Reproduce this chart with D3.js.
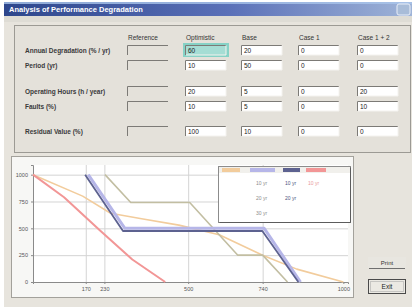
<!DOCTYPE html>
<html>
<head>
<meta charset="utf-8">
<script src="https://cdnjs.cloudflare.com/ajax/libs/d3/7.8.5/d3.min.js"></script>
<style>
    body { margin: 0; background: #ffffff; }
    svg { display: block; font-family: "Liberation Sans", "DejaVu Sans", sans-serif; }
</style>
</head>
<body>
<svg id="dialog" width="412" height="307"></svg>
<script>
//
// dialog with the input form and the degradation chart
//

// form contents
const column_labels = ['Reference', 'Optimistic', 'Base', 'Case 1', 'Case 1 + 2'];
const row_labels = ['Annual Degradation (% / yr)', 'Period (yr)', 'Operating Hours (h / year)', 'Faults (%)', 'Residual Value (%)'];
const form_values = [
    ['', '60', '20', '0', '0'],
    ['', '10', '50', '0', '0'],
    ['', '20', '5', '0', '20'],
    ['', '10', '5', '0', '10'],
    ['', '100', '10', '0', '0']
];

// chart contents
const x_ticks = [170, 230, 500, 740, 1000];
const y_ticks = [0, 250, 500, 750, 1000];
const series_names = ['Base', 'Optimistic', 'Case 1', 'Case 2', 'Reference'];
const base_curve = [[0, 1000], [160, 800], [250, 640], [350, 590], [470, 530], [600, 440], [740, 250], [850, 120], [1000, 0]];
const optimistic_curve = [[178, 1000], [296, 500], [745, 500], [862, 0]];
const case1_curve = [[168, 1000], [290, 475], [739, 475], [855, 0]];
const case2_curve = [[0, 1000], [100, 790], [216, 480], [320, 210], [426, 0]];
const reference_curve = [[232, 1000], [315, 740], [505, 740], [660, 250], [740, 250], [820, 0]];

// legend table (header per series, small entries below)
const legend_headers = ['Base', 'Optimistic', 'Case 1', 'Case 2'];
const legend_entries = [[], ['10 yr', '20 yr', '30 yr'], ['10 yr', '20 yr'], ['10 yr']];


const svg = d3.select('#dialog');
const defs = svg.append('defs');

const title_grad = defs.append('linearGradient').attr('id', 'title_grad');
title_grad.append('stop').attr('offset', '0%').attr('stop-color', '#2d468c');
title_grad.append('stop').attr('offset', '55%').attr('stop-color', '#5a70b8');
title_grad.append('stop').attr('offset', '100%').attr('stop-color', '#9fb4d8');

// window body
svg.append('rect').attr('x', 4).attr('y', 2).attr('width', 408).attr('height', 305)
    .attr('fill', '#e7e4dd');

// title bar
svg.append('rect').attr('x', 4).attr('y', 2).attr('width', 408).attr('height', 14)
    .attr('fill', 'url(#title_grad)');
svg.append('rect').attr('x', 4).attr('y', 2).attr('width', 408).attr('height', 2)
    .attr('fill', '#a9c4ea').attr('opacity', 0.8);
svg.append('text').attr('x', 9).attr('y', 12)
    .attr('fill', '#ffffff').attr('font-size', 7.5).attr('font-weight', 'bold')
    .text('Analysis of Performance Degradation');
svg.append('rect').attr('x', 397).attr('y', 4).attr('width', 13).attr('height', 11).attr('rx', 2)
    .attr('fill', '#a8bcd8').attr('stroke', '#e8eef8');
svg.append('rect').attr('x', 4).attr('y', 16).attr('width', 408).attr('height', 6)
    .attr('fill', '#dedcd5');

// form group
svg.append('rect').attr('x', 14.5).attr('y', 25.5).attr('width', 396).attr('height', 127)
    .attr('fill', '#e4e1da').attr('stroke', '#9c9a94');

const col_x = [127, 185, 241, 298, 357];
const row_y = [50, 65, 91, 106, 131];

svg.selectAll('.col_label')
    .data(column_labels)
    .enter()
    .append('text')
    .attr('class', 'col_label')
    .attr('x', (d, i) => col_x[i] + 1)
    .attr('y', 40)
    .attr('font-size', 6.5)
    .attr('fill', '#333333')
    .text((d) => d);

svg.selectAll('.row_label')
    .data(row_labels)
    .enter()
    .append('text')
    .attr('class', 'row_label')
    .attr('x', 25)
    .attr('y', (d, i) => row_y[i] + 2.5)
    .attr('font-size', 6.5)
    .attr('font-weight', 'bold')
    .attr('fill', '#3a3a3a')
    .text((d) => d);

// highlighted cell
svg.append('rect').attr('x', 183).attr('y', 43).attr('width', 46).attr('height', 14)
    .attr('fill', '#86d2c6');

const cells = [];
form_values.forEach((row, r) => row.forEach((v, c) => cells.push({r: r, c: c, v: v})));

const cell_groups = svg.selectAll('.cell')
    .data(cells)
    .enter()
    .append('g')
    .attr('class', 'cell')
    .attr('transform', (d) => `translate(${col_x[d.c]}, ${row_y[d.r] - 5})`);

cell_groups.append('rect')
    .attr('width', 41).attr('height', 10)
    .attr('fill', (d) => d.c === 0 ? '#e4e1da' : (d.r === 0 && d.c === 1 ? '#a5ddd4' : '#ffffff'));
cell_groups.append('path')
    .attr('d', 'M0.5,10 V0.5 H41')
    .attr('fill', 'none')
    .attr('stroke', '#7c7a76');
cell_groups.append('path')
    .attr('d', 'M1,10 H41 V0.5')
    .attr('fill', 'none')
    .attr('stroke', '#f4f3ef')
    .attr('opacity', (d) => d.c === 0 ? 0 : 1);
cell_groups.append('text')
    .attr('x', 3).attr('y', 7.5)
    .attr('font-size', 6.5)
    .attr('fill', '#222222')
    .text((d) => d.v);

// chart panel
svg.append('rect').attr('x', 11.5).attr('y', 156.5).attr('width', 342).attr('height', 141)
    .attr('fill', '#f7f7f5').attr('stroke', '#a3a19b');

const x = d3.scaleLinear().domain([0, 1015]).range([33, 348]);
const y = d3.scaleLinear().domain([0, 1090]).range([282, 165]);

svg.append('rect').attr('x', x(0)).attr('y', y(1090)).attr('width', x(1015) - x(0)).attr('height', y(0) - y(1090))
    .attr('fill', '#ffffff');

// grid lines
svg.append('g')
    .attr('transform', `translate(0, ${y(0)})`)
    .call(d3.axisBottom(x).tickValues(x_ticks.slice(0, 4)).tickSize(-(y(0) - y(1090))).tickFormat(''))
    .call((g) => g.select('.domain').remove())
    .call((g) => g.selectAll('line').attr('stroke', '#d4d4d4'));
svg.append('g')
    .attr('transform', `translate(${x(0)}, 0)`)
    .call(d3.axisLeft(y).tickValues(y_ticks.slice(1)).tickSize(-(x(1015) - x(0))).tickFormat(''))
    .call((g) => g.select('.domain').remove())
    .call((g) => g.selectAll('line').attr('stroke', '#d4d4d4'));

// axes
svg.append('g')
    .attr('transform', `translate(0, ${y(0)})`)
    .call(d3.axisBottom(x).tickValues(x_ticks).tickFormat(d3.format('d')).tickSize(2).tickPadding(3))
    .call((g) => g.select('.domain').attr('stroke', '#8a8a8a'))
    .call((g) => g.selectAll('line').attr('stroke', '#8a8a8a'))
    .call((g) => g.selectAll('text').attr('font-size', 5.5).attr('fill', '#555555').attr('font-family', 'Liberation Sans'));
svg.append('g')
    .attr('transform', `translate(${x(0)}, 0)`)
    .call(d3.axisLeft(y).tickValues(y_ticks).tickFormat(d3.format('d')).tickSize(2).tickPadding(3))
    .call((g) => g.select('.domain').attr('stroke', '#8a8a8a'))
    .call((g) => g.selectAll('line').attr('stroke', '#8a8a8a'))
    .call((g) => g.selectAll('text').attr('font-size', 5.5).attr('fill', '#555555').attr('font-family', 'Liberation Sans'));

const line = d3.line().x((d) => x(d[0])).y((d) => y(d[1]));

const curves = [
    {data: base_curve, color: '#f2cc9c', width: 1.6},
    {data: reference_curve, color: '#c2bea2', width: 1.6},
    {data: optimistic_curve, color: '#b6b6e8', width: 3},
    {data: case1_curve, color: '#5d6290', width: 1.8},
    {data: case2_curve, color: '#f29696', width: 2}
];

svg.selectAll('.curve')
    .data(curves)
    .enter()
    .append('path')
    .attr('class', 'curve')
    .attr('d', (d) => line(d.data))
    .attr('fill', 'none')
    .attr('stroke', (d) => d.color)
    .attr('stroke-width', (d) => d.width)
    .attr('stroke-linejoin', 'round');

// legend
const legend_colors = ['#f2cc9c', '#b6b6e8', '#5d6290', '#f29696'];
const legend_x = [222, 250, 283, 306];
const legend = svg.append('g').attr('transform', 'translate(218, 166)');
legend.append('rect').attr('x', 0.5).attr('y', 0.5).attr('width', 132).attr('height', 56)
    .attr('fill', '#ffffff').attr('stroke', '#8c8c8c');
legend.append('path').attr('d', 'M1.5,56.5 H132.5 V1.5').attr('fill', 'none').attr('stroke', '#5c5c5c');
legend.append('rect').attr('x', 1).attr('y', 1).attr('width', 131).attr('height', 6)
    .attr('fill', '#f1f0ec');

const legend_cols = legend.selectAll('.legend_col')
    .data(legend_headers)
    .enter()
    .append('g')
    .attr('class', 'legend_col')
    .attr('transform', (d, i) => `translate(${legend_x[i] - 218}, 0)`);

legend_cols.append('rect')
    .attr('y', 2).attr('height', 4)
    .attr('width', (d, i) => [18, 25, 17, 20][i])
    .attr('fill', (d, i) => legend_colors[i]);

legend_cols.selectAll('.entry')
    .data((d, i) => legend_entries[i].map((e) => ({text: e, col: i})))
    .enter()
    .append('text')
    .attr('class', 'entry')
    .attr('x', (d) => d.col === 1 ? 6 : 2)
    .attr('y', (d, j) => 19 + j * 15)
    .attr('font-size', 5)
    .attr('fill', (d) => d.col === 2 ? '#4e537e' : (d.col === 3 ? '#e99a9a' : '#8c8c8c'))
    .text((d) => d.text);

// buttons
const print_btn = svg.append('g').attr('transform', 'translate(368, 257)');
print_btn.append('rect').attr('width', 38).attr('height', 11).attr('fill', '#e8e6e0');
print_btn.append('text').attr('x', 19).attr('y', 7.5).attr('text-anchor', 'middle')
    .attr('font-size', 6).attr('fill', '#333333').text('Print');
print_btn.append('path').attr('d', 'M1,11.5 H37').attr('stroke', '#6f6f6f');

const exit_btn = svg.append('g').attr('transform', 'translate(368, 279)');
exit_btn.append('rect').attr('x', 0.5).attr('y', 0.5).attr('width', 37).attr('height', 14)
    .attr('fill', '#ebe9e3').attr('stroke', '#4a4a4a');
exit_btn.append('rect').attr('x', 2.5).attr('y', 2.5).attr('width', 33).attr('height', 10)
    .attr('fill', 'none').attr('stroke', '#a0a0a0').attr('stroke-dasharray', '1,1');
exit_btn.append('text').attr('x', 19).attr('y', 10).attr('text-anchor', 'middle')
    .attr('font-size', 6.5).attr('fill', '#222222').text('Exit');
</script>
</body>
</html>
